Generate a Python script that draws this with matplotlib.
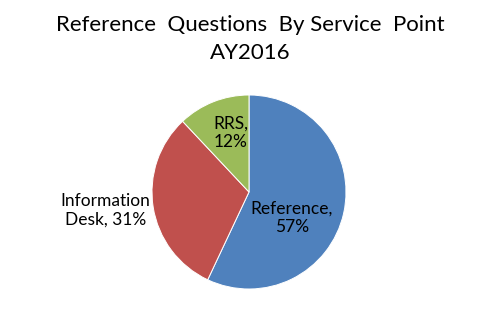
import matplotlib.pyplot as plt

categories = ["Reference", "Information Desk", "RRS"]
shares = [57, 31, 12]
label_texts = ["Reference,\n57%", "Information\nDesk, 31%", "RRS,\n12%"]
colors = ["#4F81BD", "#C0504D", "#9BBB59"]
title = "Reference  Questions  By Service  Point\nAY2016"

plt.rcParams["font.family"] = ["Lato", "DejaVu Sans"]

fig = plt.figure(figsize=(5.0, 3.14), dpi=100)
# pie centre at about (249, 192) px, radius ~97 px
W, H = 500, 314
cx, cy, r = 249, 192, 97
ax = fig.add_axes([(cx - r) / W, (H - cy - r) / H, 2 * r / W, 2 * r / H])

wedges, _ = ax.pie(shares, colors=colors, startangle=90, counterclock=False,
                   radius=1.0, wedgeprops=dict(edgecolor="white", linewidth=0.7))
ax.set_xlim(-1, 1)
ax.set_ylim(-1, 1)
ax.set_aspect("equal")
ax.axis("off")

# label anchor points in pie units (radius = 1)
label_pos = [(0.44, -0.27), (-1.48, -0.19), (-0.19, 0.61)]
for txt, (x, y) in zip(label_texts, label_pos):
    ax.text(x, y, txt, ha="center", va="center", fontsize=12.5, color="#000000",
            linespacing=1.2, clip_on=False)

fig.text(0.5, 1 - 39 / H, title, ha="center", va="center", fontsize=16,
         linespacing=1.45)

fig.savefig("out.png", dpi=100)
